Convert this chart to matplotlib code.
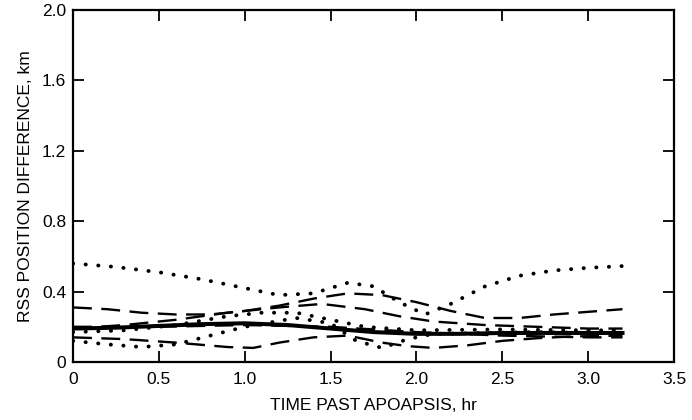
import matplotlib
matplotlib.use("Agg")
import matplotlib.pyplot as plt

# ---- data ----
solid_x = [0, 0.25, 0.5, 0.75, 1.0, 1.25, 1.5, 1.75, 2.0, 2.25, 2.5, 2.75, 3.0, 3.2]
solid_y = [0.19, 0.195, 0.205, 0.215, 0.22, 0.21, 0.19, 0.17, 0.16, 0.16, 0.165, 0.165, 0.165, 0.165]

dot_hi_x = [0, 0.25, 0.5, 0.75, 1.0, 1.2, 1.4, 1.6, 1.75, 1.9, 2.05, 2.2, 2.4, 2.6, 2.8, 3.0, 3.2]
dot_hi_y = [0.56, 0.54, 0.51, 0.47, 0.42, 0.38, 0.39, 0.45, 0.43, 0.34, 0.27, 0.33, 0.43, 0.49, 0.52, 0.535, 0.545]

dot_lo_x = [0, 0.2, 0.4, 0.6, 0.8, 1.0, 1.3, 1.5, 1.65, 1.8, 1.95, 2.1, 2.4, 2.7, 3.0, 3.2]
dot_lo_y = [0.12, 0.10, 0.085, 0.10, 0.15, 0.20, 0.25, 0.22, 0.12, 0.08, 0.13, 0.16, 0.165, 0.17, 0.165, 0.165]

dot_mid_x = [0, 0.3, 0.6, 0.9, 1.1, 1.3, 1.5, 1.7, 2.0, 2.5, 3.0, 3.2]
dot_mid_y = [0.17, 0.18, 0.21, 0.26, 0.28, 0.28, 0.24, 0.20, 0.18, 0.185, 0.18, 0.18]

dash_hi_x = [0, 0.2, 0.4, 0.6, 0.8, 1.0, 1.2, 1.4, 1.6, 1.8, 2.0, 2.2, 2.4, 2.6, 2.8, 3.0, 3.2]
dash_hi_y = [0.31, 0.30, 0.28, 0.27, 0.27, 0.29, 0.32, 0.36, 0.39, 0.38, 0.34, 0.29, 0.25, 0.25, 0.27, 0.285, 0.30]

dash_mid_x = [0, 0.3, 0.6, 0.9, 1.2, 1.45, 1.7, 1.9, 2.1, 2.4, 2.7, 3.0, 3.2]
dash_mid_y = [0.19, 0.21, 0.24, 0.28, 0.31, 0.33, 0.30, 0.26, 0.23, 0.21, 0.20, 0.19, 0.19]

dash_lo_x = [0, 0.3, 0.6, 0.9, 1.05, 1.2, 1.4, 1.6, 1.8, 1.95, 2.1, 2.3, 2.5, 2.7, 2.9, 3.2]
dash_lo_y = [0.14, 0.13, 0.11, 0.085, 0.08, 0.11, 0.14, 0.15, 0.11, 0.09, 0.08, 0.095, 0.12, 0.135, 0.145, 0.15]

dash_bnd_x = [0, 0.5, 1.0, 1.5, 2.0, 2.5, 3.0, 3.2]
dash_bnd_y = [0.20, 0.20, 0.21, 0.20, 0.17, 0.15, 0.14, 0.14]

x_ticks = [0, 0.5, 1.0, 1.5, 2.0, 2.5, 3.0, 3.5]
x_tick_labels = ["0", "0.5", "1.0", "1.5", "2.0", "2.5", "3.0", "3.5"]
y_ticks = [0, 0.4, 0.8, 1.2, 1.6, 2.0]
y_tick_labels = ["0", "0.4", "0.8", "1.2", "1.6", "2.0"]

plt.rcParams['font.family'] = ['Liberation Sans', 'DejaVu Sans']

fig = plt.figure(figsize=(6.92, 4.2), dpi=100)
ax = fig.add_axes([73/692, 58/420, (674-73)/692, (362-10)/420])

dot_style = dict(color='black', lw=2.8, linestyle=(0, (0.05, 3.2)), dash_capstyle='round', solid_capstyle='round')
dash_style = dict(color='black', lw=1.7, linestyle=(0, (8, 4)))

ax.plot(dot_hi_x, dot_hi_y, **dot_style)
ax.plot(dot_lo_x, dot_lo_y, **dot_style)
ax.plot(dot_mid_x, dot_mid_y, **dot_style)
ax.plot(dash_hi_x, dash_hi_y, **dash_style)
ax.plot(dash_mid_x, dash_mid_y, **dash_style)
ax.plot(dash_lo_x, dash_lo_y, **dash_style)
ax.plot(dash_bnd_x, dash_bnd_y, **dash_style)
ax.plot(solid_x, solid_y, color='black', lw=2.9)

ax.set_xlim(0, 3.5)
ax.set_ylim(0, 2.0)
ax.set_xticks(x_ticks)
ax.set_xticklabels(x_tick_labels)
ax.set_yticks(y_ticks)
ax.set_yticklabels(y_tick_labels)

ax.tick_params(direction='in', length=8, width=1.3, top=True, right=True,
               labelsize=12.5)
ax.tick_params(axis='x', pad=7)
ax.tick_params(axis='y', pad=5)
for s in ax.spines.values():
    s.set_linewidth(1.6)

ax.set_xlabel("TIME PAST APOAPSIS, hr", fontsize=12.5, labelpad=8)
ax.set_ylabel("RSS POSITION DIFFERENCE, km", fontsize=12.5, labelpad=6)

fig.savefig("out.png", dpi=100)
